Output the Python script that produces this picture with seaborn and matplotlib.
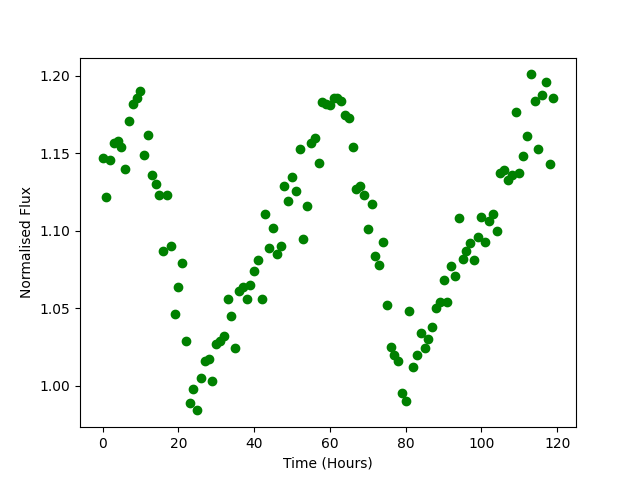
import matplotlib
matplotlib.use("Agg")
import matplotlib.pyplot as plt
import seaborn as sns
import pandas as pd

# one reading per hour
hours = list(range(120))

flux = [
    1.147, 1.122, 1.146, 1.157, 1.158, 1.154, 1.140, 1.171, 1.182, 1.186,
    1.190, 1.149, 1.162, 1.136, 1.130, 1.123, 1.087, 1.123, 1.090, 1.046,
    1.064, 1.079, 1.029, 0.989, 0.998, 0.984, 1.005, 1.016, 1.017, 1.003,
    1.027, 1.029, 1.032, 1.056, 1.045, 1.024, 1.061, 1.064, 1.056, 1.065,
    1.074, 1.081, 1.056, 1.111, 1.089, 1.102, 1.085, 1.090, 1.129, 1.119,
    1.135, 1.126, 1.153, 1.095, 1.116, 1.157, 1.160, 1.144, 1.183, 1.182,
    1.181, 1.186, 1.186, 1.184, 1.175, 1.173, 1.154, 1.127, 1.129, 1.123,
    1.101, 1.117, 1.084, 1.078, 1.093, 1.052, 1.025, 1.020, 1.016, 0.995,
    0.990, 1.048, 1.012, 1.020, 1.034, 1.024, 1.030, 1.038, 1.050, 1.054,
    1.068, 1.054, 1.077, 1.071, 1.108, 1.082, 1.087, 1.092, 1.081, 1.096,
    1.109, 1.093, 1.106, 1.111, 1.100, 1.137, 1.139, 1.133, 1.136, 1.177,
    1.137, 1.148, 1.161, 1.201, 1.184, 1.153, 1.188, 1.196, 1.143, 1.186,
]

df = pd.DataFrame({"hours": hours, "flux": flux})

fig, ax = plt.subplots(figsize=(6.4, 4.8), dpi=100)
sns.scatterplot(data=df, x="hours", y="flux", color="green",
                s=36, linewidth=1, edgecolor="green", ax=ax)
ax.set_xlabel("Time (Hours)")
ax.set_ylabel("Normalised Flux")

plt.savefig("out.png", dpi=100)
plt.close()
